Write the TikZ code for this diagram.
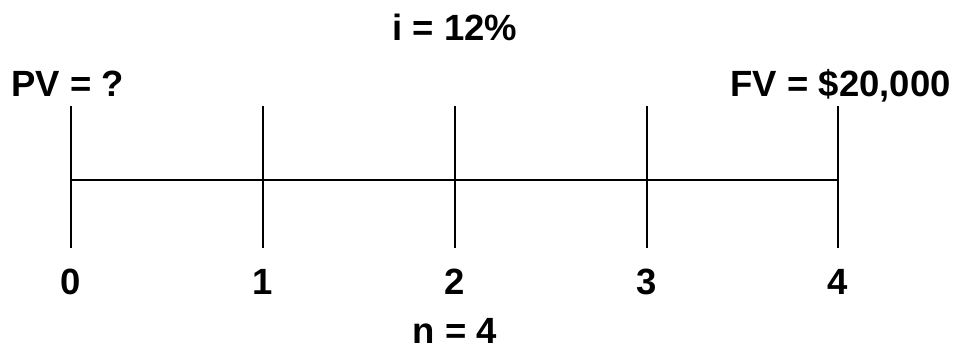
\documentclass[tikz,border=0pt]{standalone}
\usepackage{fontspec}
\setmainfont{Liberation Sans}
\begin{document}
\begin{tikzpicture}[x=1pt,y=-1pt,
  lbl/.style={font=\bfseries\fontsize{36.5}{42}\selectfont, inner sep=0pt, anchor=base},
  tl/.style={line width=1.6pt}]
\useasboundingbox (0,0) rectangle (961,351);
\foreach \i/\x in {0/71,1/263,2/455,3/647,4/838}{
  \coordinate (t\i) at (\x,106);
  \coordinate (b\i) at (\x,248);
  \coordinate (m\i) at (\x,180);
  \draw[tl] (t\i) -- (b\i);
  \node[lbl] (d\i) at (\x,294) {\i};
}
\draw[tl] (m0) -- (m4);
\node[lbl] (rate) at (455,40) {i = 12\%};
\node[lbl, anchor=base west] (pv) at (11,96) {PV = ?};
\node[lbl, anchor=base east] (fv) at (951,96) {FV = \$20,000};
\node[lbl] (n) at (455,343) {n = 4};
\end{tikzpicture}
\end{document}
